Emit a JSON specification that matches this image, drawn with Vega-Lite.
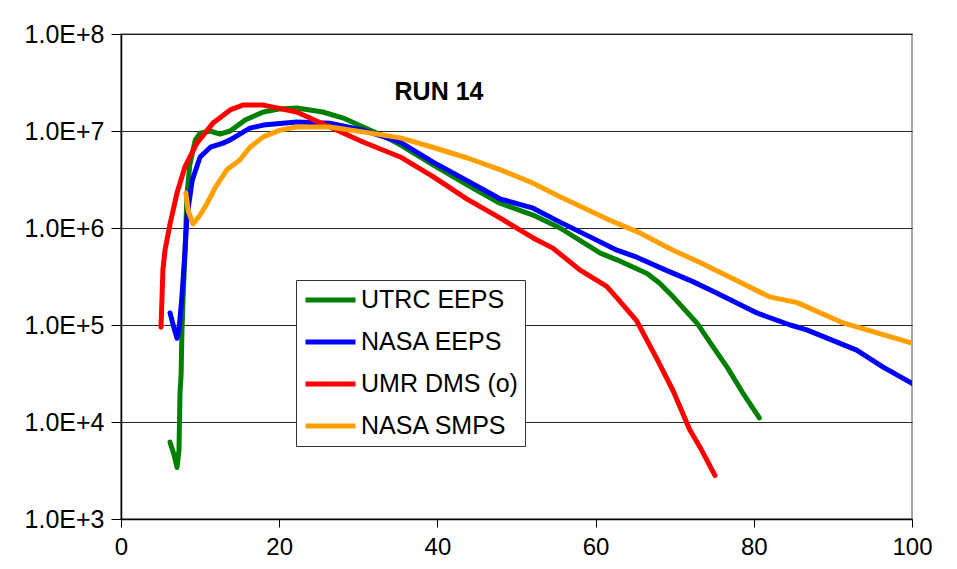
{
  "$schema": "https://vega.github.io/schema/vega-lite/v6.json",
  "autosize": {"type": "none"},
  "padding": {"left": 121, "top": 34, "right": 45, "bottom": 50},
  "width": 791,
  "height": 485,
  "background": "white",
  "config": {
    "font": "Liberation Sans",
    "view": {"stroke": "#888888", "strokeWidth": 1.5},
    "axis": {"labelFont": "Liberation Sans", "labelColor": "#000000", "domainColor": "#000000", "tickColor": "#000000", "title": null}
  },
  "datasets": {
    "lines": [
      {"s":"UTRC EEPS","i":1,"x":6.2,"y":6200},
      {"s":"UTRC EEPS","i":2,"x":6.7,"y":4600},
      {"s":"UTRC EEPS","i":3,"x":7.08,"y":3400},
      {"s":"UTRC EEPS","i":4,"x":7.33,"y":5100},
      {"s":"UTRC EEPS","i":5,"x":7.46,"y":20000},
      {"s":"UTRC EEPS","i":6,"x":7.6,"y":31000},
      {"s":"UTRC EEPS","i":7,"x":7.7,"y":83000},
      {"s":"UTRC EEPS","i":8,"x":7.84,"y":180000},
      {"s":"UTRC EEPS","i":9,"x":8.1,"y":590000},
      {"s":"UTRC EEPS","i":10,"x":8.34,"y":2200000},
      {"s":"UTRC EEPS","i":11,"x":8.7,"y":4500000},
      {"s":"UTRC EEPS","i":12,"x":9.4,"y":8100000},
      {"s":"UTRC EEPS","i":13,"x":10.0,"y":9500000},
      {"s":"UTRC EEPS","i":14,"x":11.3,"y":10000000},
      {"s":"UTRC EEPS","i":15,"x":12.5,"y":9300000},
      {"s":"UTRC EEPS","i":16,"x":13.8,"y":10000000},
      {"s":"UTRC EEPS","i":17,"x":15.7,"y":13000000},
      {"s":"UTRC EEPS","i":18,"x":18.0,"y":15700000},
      {"s":"UTRC EEPS","i":19,"x":20.1,"y":16900000},
      {"s":"UTRC EEPS","i":20,"x":22.2,"y":17300000},
      {"s":"UTRC EEPS","i":21,"x":25.5,"y":15700000},
      {"s":"UTRC EEPS","i":22,"x":28.1,"y":13600000},
      {"s":"UTRC EEPS","i":23,"x":30.6,"y":11000000},
      {"s":"UTRC EEPS","i":24,"x":33.4,"y":8700000},
      {"s":"UTRC EEPS","i":25,"x":35.3,"y":7200000},
      {"s":"UTRC EEPS","i":26,"x":39.4,"y":4500000},
      {"s":"UTRC EEPS","i":27,"x":43.7,"y":2800000},
      {"s":"UTRC EEPS","i":28,"x":47.9,"y":1800000},
      {"s":"UTRC EEPS","i":29,"x":52.1,"y":1360000},
      {"s":"UTRC EEPS","i":30,"x":55.5,"y":1000000},
      {"s":"UTRC EEPS","i":31,"x":60.6,"y":550000},
      {"s":"UTRC EEPS","i":32,"x":62.7,"y":470000},
      {"s":"UTRC EEPS","i":33,"x":66.5,"y":340000},
      {"s":"UTRC EEPS","i":34,"x":68.1,"y":270000},
      {"s":"UTRC EEPS","i":35,"x":69.8,"y":195000},
      {"s":"UTRC EEPS","i":36,"x":72.8,"y":105000},
      {"s":"UTRC EEPS","i":37,"x":74.7,"y":62000},
      {"s":"UTRC EEPS","i":38,"x":76.6,"y":37000},
      {"s":"UTRC EEPS","i":39,"x":78.6,"y":20000},
      {"s":"UTRC EEPS","i":40,"x":80.7,"y":11000},

      {"s":"NASA EEPS","i":1,"x":6.2,"y":133000},
      {"s":"NASA EEPS","i":2,"x":6.7,"y":93000},
      {"s":"NASA EEPS","i":3,"x":7.08,"y":73000},
      {"s":"NASA EEPS","i":4,"x":7.33,"y":89000},
      {"s":"NASA EEPS","i":5,"x":7.7,"y":195000},
      {"s":"NASA EEPS","i":6,"x":8.1,"y":590000},
      {"s":"NASA EEPS","i":7,"x":8.34,"y":1300000},
      {"s":"NASA EEPS","i":8,"x":9.0,"y":3100000},
      {"s":"NASA EEPS","i":9,"x":10.0,"y":5400000},
      {"s":"NASA EEPS","i":10,"x":11.3,"y":6800000},
      {"s":"NASA EEPS","i":11,"x":12.9,"y":7500000},
      {"s":"NASA EEPS","i":12,"x":13.8,"y":8100000},
      {"s":"NASA EEPS","i":13,"x":16.3,"y":10700000},
      {"s":"NASA EEPS","i":14,"x":18.0,"y":11500000},
      {"s":"NASA EEPS","i":15,"x":22.2,"y":12400000},
      {"s":"NASA EEPS","i":16,"x":26.4,"y":12000000},
      {"s":"NASA EEPS","i":17,"x":30.6,"y":10200000},
      {"s":"NASA EEPS","i":18,"x":35.3,"y":7700000},
      {"s":"NASA EEPS","i":19,"x":39.4,"y":4800000},
      {"s":"NASA EEPS","i":20,"x":43.7,"y":3100000},
      {"s":"NASA EEPS","i":21,"x":47.9,"y":2000000},
      {"s":"NASA EEPS","i":22,"x":52.1,"y":1600000},
      {"s":"NASA EEPS","i":23,"x":55.5,"y":1150000},
      {"s":"NASA EEPS","i":24,"x":59.3,"y":810000},
      {"s":"NASA EEPS","i":25,"x":62.7,"y":590000},
      {"s":"NASA EEPS","i":26,"x":65.2,"y":500000},
      {"s":"NASA EEPS","i":27,"x":68.8,"y":370000},
      {"s":"NASA EEPS","i":28,"x":72.3,"y":280000},
      {"s":"NASA EEPS","i":29,"x":75.3,"y":214000},
      {"s":"NASA EEPS","i":30,"x":80.4,"y":133000},
      {"s":"NASA EEPS","i":31,"x":84.6,"y":100000},
      {"s":"NASA EEPS","i":32,"x":86.7,"y":89000},
      {"s":"NASA EEPS","i":33,"x":93.0,"y":55000},
      {"s":"NASA EEPS","i":34,"x":96.3,"y":37000},
      {"s":"NASA EEPS","i":35,"x":100.0,"y":25000},

      {"s":"UMR DMS (o)","i":1,"x":5.06,"y":95000},
      {"s":"UMR DMS (o)","i":2,"x":5.2,"y":210000},
      {"s":"UMR DMS (o)","i":3,"x":5.3,"y":370000},
      {"s":"UMR DMS (o)","i":4,"x":5.56,"y":590000},
      {"s":"UMR DMS (o)","i":5,"x":6.2,"y":1100000},
      {"s":"UMR DMS (o)","i":6,"x":7.08,"y":2300000},
      {"s":"UMR DMS (o)","i":7,"x":8.1,"y":4300000},
      {"s":"UMR DMS (o)","i":8,"x":9.6,"y":7500000},
      {"s":"UMR DMS (o)","i":9,"x":11.6,"y":12000000},
      {"s":"UMR DMS (o)","i":10,"x":13.8,"y":16500000},
      {"s":"UMR DMS (o)","i":11,"x":15.4,"y":18500000},
      {"s":"UMR DMS (o)","i":12,"x":18.0,"y":18500000},
      {"s":"UMR DMS (o)","i":13,"x":22.2,"y":15700000},
      {"s":"UMR DMS (o)","i":14,"x":26.4,"y":11000000},
      {"s":"UMR DMS (o)","i":15,"x":30.6,"y":7700000},
      {"s":"UMR DMS (o)","i":16,"x":35.3,"y":5400000},
      {"s":"UMR DMS (o)","i":17,"x":39.4,"y":3400000},
      {"s":"UMR DMS (o)","i":18,"x":43.7,"y":2000000},
      {"s":"UMR DMS (o)","i":19,"x":47.9,"y":1270000},
      {"s":"UMR DMS (o)","i":20,"x":52.1,"y":790000},
      {"s":"UMR DMS (o)","i":21,"x":54.6,"y":620000},
      {"s":"UMR DMS (o)","i":22,"x":58.0,"y":370000},
      {"s":"UMR DMS (o)","i":23,"x":61.4,"y":250000},
      {"s":"UMR DMS (o)","i":24,"x":62.7,"y":190000},
      {"s":"UMR DMS (o)","i":25,"x":65.2,"y":110000},
      {"s":"UMR DMS (o)","i":26,"x":67.8,"y":44000},
      {"s":"UMR DMS (o)","i":27,"x":69.8,"y":21000},
      {"s":"UMR DMS (o)","i":28,"x":71.9,"y":8300},
      {"s":"UMR DMS (o)","i":29,"x":73.2,"y":5500},
      {"s":"UMR DMS (o)","i":30,"x":75.1,"y":2800},

      {"s":"NASA SMPS","i":1,"x":8.2,"y":2300000},
      {"s":"NASA SMPS","i":2,"x":8.5,"y":1500000},
      {"s":"NASA SMPS","i":3,"x":9.1,"y":1100000},
      {"s":"NASA SMPS","i":4,"x":10.0,"y":1360000},
      {"s":"NASA SMPS","i":5,"x":10.9,"y":1800000},
      {"s":"NASA SMPS","i":6,"x":11.9,"y":2600000},
      {"s":"NASA SMPS","i":7,"x":13.4,"y":4000000},
      {"s":"NASA SMPS","i":8,"x":15.0,"y":5000000},
      {"s":"NASA SMPS","i":9,"x":16.3,"y":6800000},
      {"s":"NASA SMPS","i":10,"x":18.0,"y":8700000},
      {"s":"NASA SMPS","i":11,"x":20.1,"y":10200000},
      {"s":"NASA SMPS","i":12,"x":22.2,"y":11000000},
      {"s":"NASA SMPS","i":13,"x":26.4,"y":11000000},
      {"s":"NASA SMPS","i":14,"x":30.6,"y":9800000},
      {"s":"NASA SMPS","i":15,"x":35.3,"y":8500000},
      {"s":"NASA SMPS","i":16,"x":39.4,"y":6800000},
      {"s":"NASA SMPS","i":17,"x":43.7,"y":5300000},
      {"s":"NASA SMPS","i":18,"x":47.9,"y":4000000},
      {"s":"NASA SMPS","i":19,"x":52.1,"y":2900000},
      {"s":"NASA SMPS","i":20,"x":55.5,"y":2100000},
      {"s":"NASA SMPS","i":21,"x":61.8,"y":1200000},
      {"s":"NASA SMPS","i":22,"x":65.6,"y":890000},
      {"s":"NASA SMPS","i":23,"x":69.8,"y":590000},
      {"s":"NASA SMPS","i":24,"x":73.2,"y":440000},
      {"s":"NASA SMPS","i":25,"x":77.0,"y":310000},
      {"s":"NASA SMPS","i":26,"x":82.0,"y":195000},
      {"s":"NASA SMPS","i":27,"x":85.5,"y":170000},
      {"s":"NASA SMPS","i":28,"x":91.3,"y":105000},
      {"s":"NASA SMPS","i":29,"x":100.0,"y":65000}
    ],
    "labels": [
      {"x": 40.2, "y": 25200000, "t": "RUN 14"}
    ]
  },
  "layer": [
    {
      "data": {"name": "lines"},
      "mark": {"type": "line", "strokeWidth": 5, "strokeCap": "round", "strokeJoin": "round", "clip": true},
      "encoding": {
        "x": {
          "field": "x", "type": "quantitative",
          "scale": {"domain": [0, 100], "nice": false},
          "axis": {"values": [0, 20, 40, 60, 80, 100], "grid": false, "tickSize": 8, "labelFontSize": 24, "labelPadding": 8, "domainWidth": 1.5, "labelFlush": false}
        },
        "y": {
          "field": "y", "type": "quantitative",
          "scale": {"type": "log", "domain": [1000, 100000000], "nice": false},
          "axis": {"values": [1000, 10000, 100000, 1000000, 10000000, 100000000], "labelExpr": "upper(format(datum.value, '.1e'))", "grid": true, "gridColor": "#000000", "gridWidth": 1, "gridOpacity": 0.85, "tickSize": 10, "labelFontSize": 25, "labelPadding": 7, "domainWidth": 1.5, "labelFlush": false}
        },
        "color": {
          "field": "s", "type": "nominal",
          "scale": {"domain": ["UTRC EEPS", "NASA EEPS", "UMR DMS (o)", "NASA SMPS"], "range": ["#008000", "#0000FF", "#FF0000", "#FF9F00"]},
          "legend": {
            "title": null, "orient": "none", "legendX": 175, "legendY": 246,
            "strokeColor": "#333333", "fillColor": "#FFFFFF", "padding": 7,
            "symbolType": "stroke", "symbolSize": 2500, "symbolStrokeWidth": 5,
            "labelFontSize": 25, "labelFont": "Liberation Sans", "labelColor": "#000000", "labelOffset": 3,
            "clipHeight": 26, "rowPadding": 16, "labelLimit": 300
          }
        },
        "order": {"field": "i", "type": "quantitative"}
      }
    },
    {
      "data": {"name": "labels"},
      "mark": {"type": "text", "fontSize": 25, "fontWeight": "bold", "font": "Liberation Sans", "align": "center", "baseline": "middle", "color": "#000000"},
      "encoding": {
        "x": {"field": "x", "type": "quantitative"},
        "y": {"field": "y", "type": "quantitative"},
        "text": {"field": "t"}
      }
    }
  ]
}
